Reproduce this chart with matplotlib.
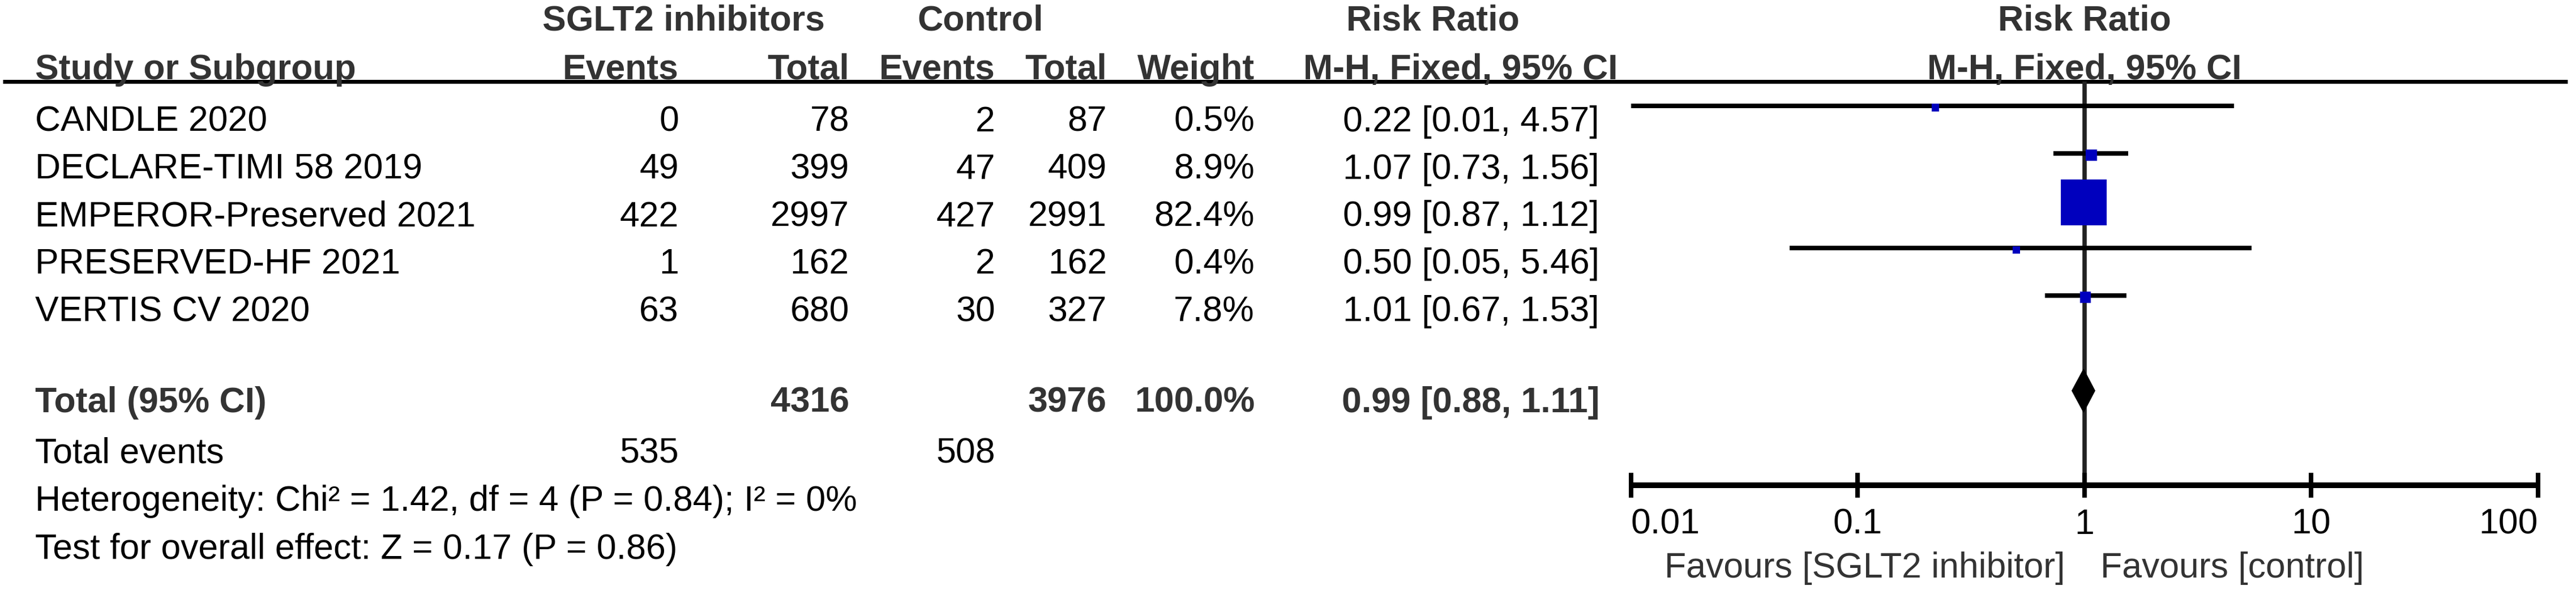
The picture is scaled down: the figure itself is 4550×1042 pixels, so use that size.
import matplotlib
matplotlib.use('Agg')
import matplotlib.pyplot as plt
from matplotlib.patches import Polygon
from matplotlib.ticker import NullLocator

plt.rcParams['font.family'] = ['Liberation Sans', 'DejaVu Sans']

# Study data
studies = ['CANDLE 2020', 'DECLARE-TIMI 58 2019', 'EMPEROR-Preserved 2021',
           'PRESERVED-HF 2021', 'VERTIS CV 2020']
sglt2_events = [0, 49, 422, 1, 63]
sglt2_total = [78, 399, 2997, 162, 680]
ctrl_events = [2, 47, 427, 2, 30]
ctrl_total = [87, 409, 2991, 162, 327]
weights = [0.5, 8.9, 82.4, 0.4, 7.8]
rr = [0.22, 1.07, 0.99, 0.50, 1.01]
ci_low = [0.01, 0.73, 0.87, 0.05, 0.67]
ci_high = [4.57, 1.56, 1.12, 5.46, 1.53]

# Pooled result
total_sglt2 = 4316
total_ctrl = 3976
total_weight = 100.0
total_rr = 0.99
total_low = 0.88
total_high = 1.11
events_sglt2 = 535
events_ctrl = 508
heterogeneity = 'Heterogeneity: Chi² = 1.42, df = 4 (P = 0.84); I² = 0%'
overall = 'Test for overall effect: Z = 0.17 (P = 0.86)'

xticks = [0.01, 0.1, 1, 10, 100]
xtick_labels = ['0.01', '0.1', '1', '10', '100']

W, H, DPI = 4550, 1042, 100
FS = 45
HEAD = '#333333'
BLUE = '#0000BE'

fig = plt.figure(figsize=(W / DPI, H / DPI), dpi=DPI)
ax = fig.add_axes([0, 0, 1, 1])
ax.set_xlim(0, W)
ax.set_ylim(H, 0)
ax.axis('off')

# layout (pixel baselines)
base_h1, base_h2 = 53, 140
row_base = [232 + 83.75 * i for i in range(len(studies))]
base_total, base_events, base_het, base_test = 728, 818, 902, 987
x_name, x_ev1, x_tot1, x_ev2, x_tot2, x_wt, x_rr = 62, 1199, 1500, 1758, 1955, 2216, 2825


def txt(x, y, s, ha='right', bold=False, color='black'):
    ax.text(x, y, s, ha=ha, va='baseline', fontsize=FS,
            fontweight='bold' if bold else 'normal', color=color)


# headers
txt(1208, base_h1, 'SGLT2 inhibitors', ha='center', bold=True, color=HEAD)
txt(1732, base_h1, 'Control', ha='center', bold=True, color=HEAD)
txt(2531, base_h1, 'Risk Ratio', ha='center', bold=True, color=HEAD)
txt(x_name, base_h2, 'Study or Subgroup', ha='left', bold=True, color=HEAD)
txt(x_ev1, base_h2, 'Events', bold=True, color=HEAD)
txt(x_tot1, base_h2, 'Total', bold=True, color=HEAD)
txt(x_ev2, base_h2, 'Events', bold=True, color=HEAD)
txt(x_tot2, base_h2, 'Total', bold=True, color=HEAD)
txt(x_wt, base_h2, 'Weight', bold=True, color=HEAD)
txt(2580, base_h2, 'M-H, Fixed, 95% CI', ha='center', bold=True, color=HEAD)
ax.hlines(144, 5, 4535, color='black', lw=5)

# study rows
for i, name in enumerate(studies):
    y = row_base[i]
    txt(x_name, y, name, ha='left')
    txt(x_ev1, y, str(sglt2_events[i]))
    txt(x_tot1, y, str(sglt2_total[i]))
    txt(x_ev2, y, str(ctrl_events[i]))
    txt(x_tot2, y, str(ctrl_total[i]))
    txt(x_wt, y, f'{weights[i]:.1f}%')
    txt(x_rr, y, f'{rr[i]:.2f} [{ci_low[i]:.2f}, {ci_high[i]:.2f}]')

# totals
txt(x_name, base_total, 'Total (95% CI)', ha='left', bold=True, color=HEAD)
txt(x_tot1, base_total, str(total_sglt2), bold=True, color=HEAD)
txt(x_tot2, base_total, str(total_ctrl), bold=True, color=HEAD)
txt(x_wt, base_total, f'{total_weight:.1f}%', bold=True, color=HEAD)
txt(x_rr, base_total, f'{total_rr:.2f} [{total_low:.2f}, {total_high:.2f}]',
    bold=True, color=HEAD)
txt(x_name, base_events, 'Total events', ha='left')
txt(x_ev1, base_events, str(events_sglt2))
txt(x_ev2, base_events, str(events_ctrl))
txt(x_name, base_het, heterogeneity, ha='left')
txt(x_name, base_test, overall, ha='left')

# forest panel
x0, x1 = 2881, 4483
ax2 = fig.add_axes([x0 / W, 0, (x1 - x0) / W, 1])
ax2.set_xscale('log')
ax2.set_xlim(0.01, 100)
ax2.set_ylim(H, 0)
ax2.patch.set_visible(False)
for side in ['left', 'right', 'top']:
    ax2.spines[side].set_visible(False)
ax2.yaxis.set_visible(False)
ax2.spines['bottom'].set_position(('data', 857))
ax2.spines['bottom'].set_linewidth(7.2)
ax2.spines['bottom'].set_capstyle('butt')
ax2.set_xticks(xticks, labels=xtick_labels)
ax2.xaxis.set_minor_locator(NullLocator())
ax2.tick_params(axis='x', direction='inout', length=31, width=5.8, pad=13,
                labelsize=FS, colors='black')
tl = ax2.get_xticklabels()
tl[0].set_ha('left')
tl[-1].set_ha('right')

ax2.vlines(1, 144, 857, color='#222222', lw=5.5, zorder=1)

line_y = [b - 45 for b in row_base]
ax2.hlines(line_y, ci_low, ci_high, color='black', lw=5.8, zorder=2)
sizes = [((12.7 + 0.83 * w) * 72 / DPI) ** 2 for w in weights]
ax2.scatter(rr, [y + 3 for y in line_y], s=sizes, marker='s', color=BLUE,
            linewidths=0, zorder=3)

yd, hd = base_total - 38, 38
diamond = Polygon([(total_low, yd), (total_rr, yd - hd), (total_high, yd),
                   (total_rr, yd + hd)], closed=True, color='black', zorder=3)
ax2.add_patch(diamond)

ax2.text(1, base_h1, 'Risk Ratio', ha='center', va='baseline', fontsize=FS,
         fontweight='bold', color=HEAD)
ax2.text(1, base_h2, 'M-H, Fixed, 95% CI', ha='center', va='baseline',
         fontsize=FS, fontweight='bold', color=HEAD)
ax2.annotate('Favours [SGLT2 inhibitor]', xy=(1, 1020), xytext=(-25, 0),
             textcoords='offset points', ha='right', va='baseline',
             fontsize=FS, color=HEAD)
ax2.annotate('Favours [control]', xy=(1, 1020), xytext=(20, 0),
             textcoords='offset points', ha='left', va='baseline',
             fontsize=FS, color=HEAD)

fig.savefig('out.png', dpi=DPI, facecolor='white')
